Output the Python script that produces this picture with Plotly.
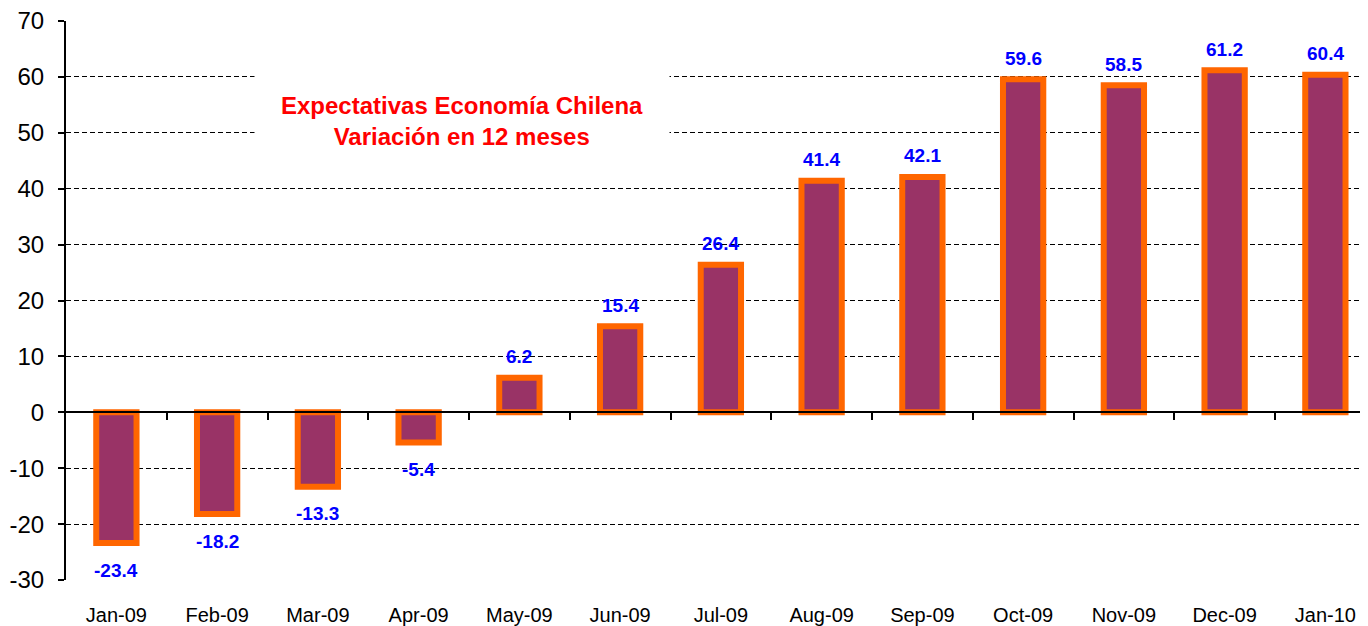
import plotly.graph_objects as go

categories = ["Jan-09", "Feb-09", "Mar-09", "Apr-09", "May-09", "Jun-09", "Jul-09",
              "Aug-09", "Sep-09", "Oct-09", "Nov-09", "Dec-09", "Jan-10"]
values = [-23.4, -18.2, -13.3, -5.4, 6.2, 15.4, 26.4, 41.4, 42.1, 59.6, 58.5, 61.2, 60.4]
y_ticks = list(range(-30, 71, 10))
y_tick_labels = [str(v) for v in y_ticks]
title_lines = ["Expectativas Economía Chilena", "Variación en 12 meses"]

FONT = "Arial, 'Liberation Sans', sans-serif"
n = len(categories)
xs = list(range(n))

# page body has an 8px default margin; compensate so the plot lands where intended
W, H = 1360, 618
L, T, B = 58, 13, 46
plot_w = W - L
plot_h = H - T - B
spacing = 100.75
xrange = [-0.5, -0.5 + plot_w / spacing]

fig = go.Figure()
fig.add_trace(go.Bar(
    x=xs, y=values, width=0.4,
    marker=dict(color="#993366", line=dict(color="#FF6600", width=6)),
    hoverinfo="skip",
))
# invisible trace to carry the zero-line axis with boundary tick marks
fig.add_trace(go.Scatter(x=[xs[0]], y=[0], xaxis="x2", yaxis="y", mode="markers",
                         marker=dict(opacity=0), hoverinfo="skip", showlegend=False))

annotations = []
for xi, v in zip(xs, values):
    annotations.append(dict(
        x=xi, y=v, xref="x", yref="y", text=f"<b>{v:.1f}</b>", showarrow=False,
        font=dict(color="#0000FF", size=19, family=FONT),
        xanchor="center", yanchor="middle", yshift=21 if v >= 0 else -27,
    ))

annotations.append(dict(
    xref="paper", yref="paper", x=(462 - 66) / plot_w, y=(580 - 121) / plot_h,
    text="<b>" + "<br>".join(title_lines) + "</b>",
    showarrow=False, font=dict(color="#FF0000", size=24, family=FONT),
    bgcolor="white", borderpad=26, align="center",
    xanchor="center", yanchor="middle",
))

fig.update_layout(
    width=W, height=H,
    margin=dict(l=L, r=0, t=T, b=B, autoexpand=False),
    paper_bgcolor="white", plot_bgcolor="white",
    showlegend=False,
    font=dict(family=FONT, color="black"),
    xaxis=dict(
        range=xrange, tickmode="array", tickvals=xs, ticktext=categories,
        tickfont=dict(size=20), ticks="", showgrid=False, zeroline=False,
        showline=False, ticklabelstandoff=21, ticklabeloverflow="allow",
    ),
    xaxis2=dict(
        range=xrange, overlaying="x", anchor="free", position=0.3,
        tickmode="array", tickvals=[i + 0.5 for i in xs[:-1]],
        ticks="outside", ticklen=7, tickcolor="black", tickwidth=2,
        showticklabels=False, showgrid=False, zeroline=False,
        showline=True, linecolor="black", linewidth=2,
    ),
    yaxis=dict(
        range=[-30, 70], tickmode="array", tickvals=y_ticks, ticktext=y_tick_labels,
        tickfont=dict(size=24), ticks="outside", ticklen=6, tickcolor="black",
        tickwidth=2, showline=True, linecolor="black", linewidth=2,
        showgrid=True, gridcolor="black", gridwidth=1, griddash="5px,3px",
        zeroline=False, ticklabelstandoff=9, ticklabeloverflow="allow",
    ),
    annotations=annotations,
)

fig.write_html("out.html")
